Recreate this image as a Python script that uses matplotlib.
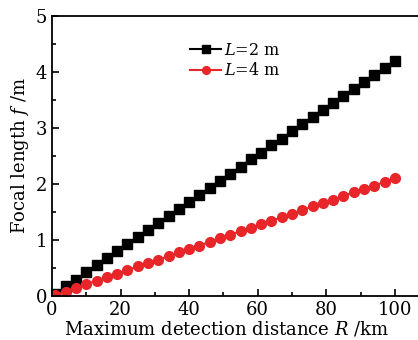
import matplotlib
matplotlib.use("Agg")
import matplotlib.pyplot as plt
from matplotlib.ticker import MultipleLocator

# Data
R_km = [1, 4, 7, 10, 13, 16, 19, 22, 25, 28, 31, 34, 37, 40, 43, 46, 49, 52,
        55, 58, 61, 64, 67, 70, 73, 76, 79, 82, 85, 88, 91, 94, 97, 100]
f_L2 = [0.04, 0.17, 0.29, 0.42, 0.55, 0.67, 0.80, 0.92, 1.05, 1.18, 1.30, 1.43,
        1.55, 1.68, 1.81, 1.93, 2.06, 2.18, 2.31, 2.44, 2.56, 2.69, 2.81, 2.94,
        3.07, 3.19, 3.32, 3.44, 3.57, 3.70, 3.82, 3.95, 4.07, 4.20]
f_L4 = [0.02, 0.08, 0.15, 0.21, 0.27, 0.34, 0.40, 0.46, 0.53, 0.59, 0.65, 0.71,
        0.78, 0.84, 0.90, 0.97, 1.03, 1.09, 1.16, 1.22, 1.28, 1.34, 1.41, 1.47,
        1.53, 1.60, 1.66, 1.72, 1.79, 1.85, 1.91, 1.97, 2.04, 2.10]
x_ticks = [0, 20, 40, 60, 80, 100]
y_ticks = [0, 1, 2, 3, 4, 5]

plt.rcParams['font.family'] = ['DejaVu Serif']
plt.rcParams['mathtext.fontset'] = 'custom'
plt.rcParams['mathtext.rm'] = 'DejaVu Serif'
plt.rcParams['mathtext.it'] = 'DejaVu Serif:italic'

fig = plt.figure(figsize=(4.18, 3.40), dpi=100)
ax = fig.add_axes([52/418, 44/340, 372/418, 280/340])

ax.plot(R_km, f_L2, color='black', marker='s', markersize=6.5, lw=1.5,
        label=r'$L$=2 m')
ax.plot(R_km, f_L4, color='#e8262a', marker='o', markersize=7, lw=1.5,
        label=r'$L$=4 m')

ax.set_xlim(0, 108.5)
ax.set_ylim(0, 5)
ax.set_xticks(x_ticks)
ax.set_yticks(y_ticks)
ax.xaxis.set_minor_locator(MultipleLocator(10))
ax.yaxis.set_minor_locator(MultipleLocator(0.5))
ax.tick_params(which='both', direction='in', top=False, right=False,
               labelsize=13, width=1.2)
ax.tick_params(which='major', length=5)
ax.tick_params(which='minor', length=3)
for s in ax.spines.values():
    s.set_linewidth(1.3)
ax.spines['right'].set_visible(False)

ax.set_xlabel(r'Maximum detection distance $R$ /km', fontsize=13)
ax.xaxis.set_label_coords(0.47, -0.085)
ax.set_ylabel(r'Focal length $f$ /m', fontsize=13, labelpad=3)

leg = ax.legend(loc='upper left', bbox_to_anchor=(0.355, 0.93), frameon=False,
                fontsize=11.5, handlelength=1.9, handletextpad=0.2,
                labelspacing=0.2, borderaxespad=0, markerscale=0.8)

fig.savefig('out.png', dpi=100)
